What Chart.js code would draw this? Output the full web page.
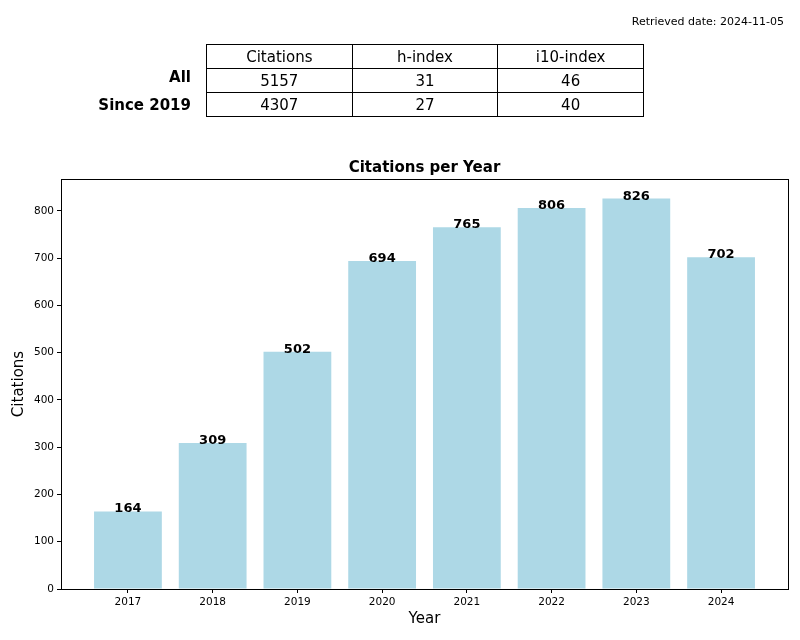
<!DOCTYPE html>
<html>
<head>
<meta charset="utf-8">
<script src="https://cdn.jsdelivr.net/npm/chart.js"></script>
<style>
    body { margin: 0; background: #fff; font-family: "DejaVu Sans", sans-serif; }
    #wrap { position: relative; width: 800px; height: 640px; }
    #summaryChart { position: absolute; left: 0; top: 0; }
    #retrieved { position: absolute; right: 16px; top: 15px; font-size: 11px; color: #000; }
    #statsTable { position: absolute; left: 206px; top: 44px; width: 438px; border-collapse: collapse; table-layout: fixed; font-size: 15px; }
    #statsTable td { border: 1px solid #000; height: 23px; padding: 0; text-align: center; }
    .rowLabel { position: absolute; right: 609px; font-size: 15px; font-weight: bold; }
</style>
</head>
<body>
<div id="wrap">
    <canvas id="summaryChart" width="800" height="640"></canvas>
    <div id="retrieved"></div>
    <table id="statsTable"><tbody></tbody></table>
</div>
<script type="text/javascript">
    var retrievedDate = 'Retrieved date: 2024-11-05';
    var chartTitle = 'Citations per Year';
    var table_columns = ['Citations', 'h-index', 'i10-index'];
    var table_rowLabels = ['All', 'Since 2019'];
    var table_all = [5157, 31, 46];
    var table_since = [4307, 27, 40];

    var chart_labels = ['2017', '2018', '2019', '2020', '2021', '2022', '2023', '2024'];
    var chart_data = [164, 309, 502, 694, 765, 806, 826, 702];
    var y_ticks = [0, 100, 200, 300, 400, 500, 600, 700, 800];

    // table above the chart
    document.getElementById('retrieved').textContent = retrievedDate;
    var tbody = document.querySelector('#statsTable tbody');
    [table_columns, table_all, table_since].forEach(function (row) {
        var tr = document.createElement('tr');
        row.forEach(function (v) {
            var td = document.createElement('td');
            td.textContent = v;
            tr.appendChild(td);
        });
        tbody.appendChild(tr);
    });
    var labelTops = [68, 96];
    table_rowLabels.forEach(function (txt, i) {
        var d = document.createElement('div');
        d.className = 'rowLabel';
        d.style.top = labelTops[i] + 'px';
        d.textContent = txt;
        document.getElementById('wrap').appendChild(d);
    });

    var n = chart_labels.length;
    var xPad = 0.4 + (n - 1 + 0.8) * 0.05;
    var yMax = Math.max.apply(null, chart_data) * 1.05;

    // title over the plot area, border on all four sides, value labels on bars
    var framePlugin = {
        id: 'frame',
        afterDatasetsDraw: function (chart) {
            var ctx = chart.ctx;
            var a = chart.chartArea;
            var meta = chart.getDatasetMeta(0);
            ctx.save();
            ctx.fillStyle = '#000';
            ctx.textAlign = 'center';
            ctx.textBaseline = 'alphabetic';
            ctx.font = 'bold 13px "DejaVu Sans"';
            meta.data.forEach(function (bar, i) {
                ctx.fillText(chart_data[i], bar.x, bar.y + 1);
            });
            ctx.font = 'bold 15px "DejaVu Sans"';
            ctx.textBaseline = 'middle';
            ctx.fillText(chartTitle, (a.left + a.right) / 2, a.top - 11);
            ctx.strokeStyle = '#000';
            ctx.lineWidth = 1;
            ctx.strokeRect(Math.round(a.left) + 0.5, Math.round(a.top) + 0.5,
                Math.round(a.right - a.left), Math.round(a.bottom - a.top));
            ctx.restore();
        }
    };

    var ctx = document.getElementById('summaryChart').getContext('2d');
    var summaryChart = new Chart(ctx, {
        type: 'bar',
        data: {
            datasets: [{
                label: 'Citations',
                data: chart_data.map(function (v, i) { return { x: i, y: v }; }),
                backgroundColor: '#add8e6',
                borderWidth: 0,
                barPercentage: 0.8,
                categoryPercentage: 1.0
            }]
        },
        options: {
            responsive: false,
            animation: false,
            layout: { padding: { top: 179, right: 12, left: 0, bottom: 0 } },
            plugins: {
                legend: { display: false },
                tooltip: { enabled: false },
                title: { display: false }
            },
            scales: {
                x: {
                    type: 'linear',
                    offset: false,
                    min: -xPad,
                    max: n - 1 + xPad,
                    afterBuildTicks: function (scale) {
                        scale.ticks = chart_labels.map(function (_, i) { return { value: i }; });
                    },
                    afterFit: function (scale) { scale.height = 51; },
                    ticks: {
                        color: '#000',
                        font: { family: 'DejaVu Sans', size: 10.5 },
                        padding: 3,
                        maxRotation: 0,
                        callback: function (v) { return chart_labels[v]; }
                    },
                    grid: { offset: false, drawOnChartArea: false, drawTicks: true, tickLength: 4, color: '#000' },
                    border: { display: true, color: '#000' },
                    title: {
                        display: true,
                        text: 'Year',
                        color: '#000',
                        font: { family: 'DejaVu Sans', size: 15 },
                        padding: { top: 0, bottom: 12 }
                    }
                },
                y: {
                    min: 0,
                    max: yMax,
                    afterBuildTicks: function (scale) {
                        scale.ticks = y_ticks.map(function (v) { return { value: v }; });
                    },
                    afterFit: function (scale) { scale.width = 61; },
                    ticks: {
                        color: '#000',
                        font: { family: 'DejaVu Sans', size: 10.5 },
                        padding: 3
                    },
                    grid: { drawOnChartArea: false, drawTicks: true, tickLength: 4, color: '#000' },
                    border: { display: true, color: '#000' },
                    title: {
                        display: true,
                        text: 'Citations',
                        color: '#000',
                        font: { family: 'DejaVu Sans', size: 15 },
                        padding: { top: 10, bottom: 0 }
                    }
                }
            }
        },
        plugins: [framePlugin]
    });
</script>
</body>
</html>
